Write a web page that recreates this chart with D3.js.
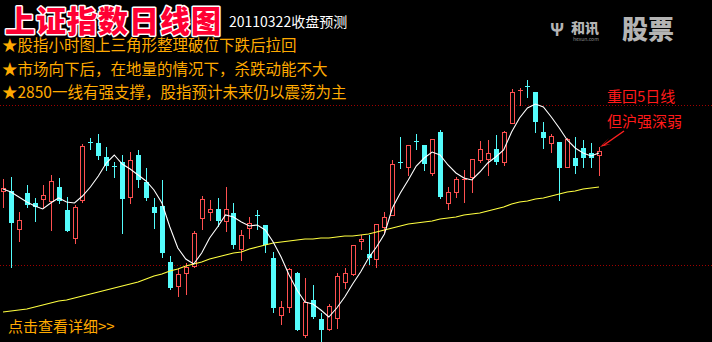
<!DOCTYPE html>
<html>
<head>
<meta charset="utf-8">
<script src="https://cdn.jsdelivr.net/npm/d3@7"></script>
<style>
  body { margin: 0; background: #000; overflow: hidden; }
  svg { display: block; }
</style>
</head>
<body>
<div id="chart"></div>
<script>
// daily bars, Shanghai index
let opens = [2903.5,2903.5,2846.5,2900.5,2885.5,2891.5,2888.5,2909.5,2875,2833,
  2890,2977,2975.5,2954.5,2941,2947,2894.5,2957.5,2917,2879.5,
  2881,2797,2761,2780.5,2791,2863,2872,2876.5,2858.5,2870.5,
  2816.5,2848,2867.5,2852.5,2803,2717.5,2729.5,2780.5,2687.5,2740,
  2711.5,2696.5,2713,2767,2779,2828.5,2809,2801.5,2849.5,2867.5,
  2947,2939.5,2978.5,2972.5,2930.5,2992,2885.5,2902,2920,2924.5,
  2950,2951.5,2966.5,2947,3005.5,3053.5,3061,3052,2992,2975.5,
  2977,2939.5,2953,2968,2960.5,2957.5];
let highs = [2921.5,2924.5,2872,2912.5,2893,2912.5,2927.5,2923,2894.5,2882.5,
  2974,2983,2989,2969.5,2947,2957.5,2962,2965,2938,2893,
  2920,2806,2786.5,2795.5,2843.5,2896,2890,2893,2909.5,2885.5,
  2845,2864.5,2875,2852.5,2812,2738.5,2788,2782,2773,2762.5,
  2720.5,2734,2780.5,2788,2822.5,2837.5,2837.5,2854,2872,2950,
  2984.5,2972.5,2989,2972.5,2981.5,2995,2909.5,2924.5,2935,2951.5,
  2978.5,2980,2987.5,2993.5,3056.5,3058,3070,3052,3007,2989,
  2977,2983,2984.5,2980,2975.5,2969.5];
let lows = [2879.5,2789.5,2828.5,2879.5,2858.5,2878,2845,2885.5,2843.5,2825.5,
  2887,2966.5,2951.5,2935,2924.5,2840.5,2885.5,2909.5,2890,2848,
  2804.5,2756.5,2746,2749,2789.5,2846.5,2860,2851,2843.5,2818,
  2800,2833,2846.5,2812,2722,2704,2722,2695,2684.5,2713,
  2677,2695,2698,2758,2777.5,2816.5,2794,2789.5,2842,2867.5,
  2938,2927.5,2966.5,2935,2927.5,2893,2876.5,2894.5,2887,2902,
  2947,2927.5,2944,2942.5,3005.5,3032.5,3044.5,2992,2968,2962,
  2890,2939.5,2930.5,2939.5,2939.5,2927.5];
let closes = [2908,2857,2860,2884,2881,2897.5,2918.5,2890,2845,2879.5,
  2971,2975.5,2957.5,2942.5,2939.5,2893,2950,2921.5,2894.5,2872,
  2812,2759.5,2779,2789.5,2840.5,2891.5,2876.5,2860,2876.5,2824,
  2837.5,2855.5,2866,2824,2729.5,2729.5,2786.5,2696.5,2737,2716,
  2696.5,2731,2776,2780.5,2822.5,2831.5,2804.5,2854,2864.5,2944,
  2945.5,2972.5,2977,2945.5,2981.5,2896,2902,2921.5,2921.5,2951.5,
  2966.5,2960.5,2948.5,2992,3052,3055,3059.5,3008.5,2984.5,2986,
  2939.5,2981.5,2942.5,2954.5,2954.5,2963.5];

// 5 day average (white) and long average (yellow)
let ma5 = [2906.5,2902,2894.5,2887,2881,2876.5,2885.5,2893,2887,2885.5,
  2896,2909.5,2926,2945.5,2957.5,2944,2936.5,2927.5,2918.5,2905,
  2885.5,2849.5,2818,2801.5,2794,2810.5,2833,2849.5,2867.5,2864.5,
  2857,2851,2852.5,2845,2827,2804.5,2777.5,2755,2737,2734,
  2725,2714.5,2728,2744.5,2764,2782,2803,2819.5,2839,2878,
  2900.5,2920,2941,2953,2962,2957.5,2942.5,2930.5,2923,2920,
  2932,2945.5,2954.5,2965,2992,3013,3028,3034,3029.5,3014.5,
  2998,2980,2968,2960.5,2956,2960.5];
let maLong = [2722,2723.5,2725,2726.5,2729.5,2732.5,2735.5,2738.5,2740,2743,
  2746,2749,2752,2755,2758,2761,2764,2767,2771.5,2776,
  2779,2783.5,2786.5,2791,2794,2797,2801.5,2804.5,2807.5,2810.5,
  2812,2816.5,2819.5,2822.5,2825.5,2827,2828.5,2830,2831.5,2831.5,
  2833,2833,2834.5,2836,2836,2837.5,2839,2842,2845,2848,
  2851,2854,2855.5,2857,2858.5,2861.5,2863,2864.5,2867.5,2869,
  2870.5,2873.5,2876.5,2879.5,2884,2887,2888.5,2891.5,2893,2896,
  2899,2902,2903.5,2906.5,2908,2909.5];

let refLevels = [3033, 2793];

let titleText = "上证指数日线图";
let dateText = "20110322收盘预测";
let bullets = ["股指小时图上三角形整理破位下跌后拉回",
  "市场向下后，在地量的情况下，杀跌动能不大",
  "2850一线有强支撑，股指预计未来仍以震荡为主"];
let noteLines = ["重回5日线", "但沪强深弱"];
let linkText = "点击查看详细>>";

const width = 712, height = 342;
const n = opens.length;
const font = "'Noto Sans CJK SC', 'Noto Sans', sans-serif";
const upColor = "#ff5050", downColor = "#54fcfc";

let svg = d3.select("#chart").append("svg")
  .attr("width", width)
  .attr("height", height)
  .style("background", "#000");

let x = d3.scaleLinear().domain([0, n - 1]).range([3, 599]);
let y = d3.scaleLinear().domain([2680, 3070]).range([340, 80]);

// dotted reference lines
svg.append("g").selectAll("line").data(refLevels).join("line")
  .attr("x1", 0).attr("x2", width)
  .attr("y1", d => Math.round(y(d)) + 0.5)
  .attr("y2", d => Math.round(y(d)) + 0.5)
  .attr("stroke", "#a00000")
  .attr("stroke-dasharray", "1,2");

// candles
let g = svg.append("g").attr("shape-rendering", "crispEdges");
d3.range(n).forEach(i => {
  let up = closes[i] >= opens[i];
  let col = up ? upColor : downColor;
  let px = Math.round(x(i));
  let top = Math.round(y(Math.max(opens[i], closes[i])));
  let bot = Math.round(y(Math.min(opens[i], closes[i])));
  g.append("line")
    .attr("x1", px + 0.5).attr("x2", px + 0.5)
    .attr("y1", Math.round(y(highs[i]))).attr("y2", Math.round(y(lows[i])) + 1)
    .attr("stroke", col);
  if (bot - top < 2) {
    g.append("line")
      .attr("x1", px - 2).attr("x2", px + 3)
      .attr("y1", top + 0.5).attr("y2", top + 0.5)
      .attr("stroke", col);
  } else if (up) {
    g.append("rect")
      .attr("x", px - 1.5).attr("y", top + 0.5)
      .attr("width", 4).attr("height", bot - top)
      .attr("fill", "#000").attr("stroke", col);
  } else {
    g.append("rect")
      .attr("x", px - 2).attr("y", top)
      .attr("width", 5).attr("height", bot - top + 1)
      .attr("fill", col);
  }
});

// moving averages
let line = d3.line().x((d, i) => x(i)).y(d => y(d));
svg.append("path").datum(maLong)
  .attr("d", line).attr("fill", "none")
  .attr("stroke", "#ffff40").attr("stroke-width", 1.2);
svg.append("path").datum(ma5)
  .attr("d", line).attr("fill", "none")
  .attr("stroke", "#fff").attr("stroke-width", 1.1);

// title
svg.append("text")
  .attr("x", 5).attr("y", 32)
  .attr("font-family", font).attr("font-size", 30).attr("font-weight", 900)
  .attr("fill", "#ff0033").attr("stroke", "#fff").attr("stroke-width", 3)
  .attr("paint-order", "stroke").attr("stroke-linejoin", "round")
  .attr("letter-spacing", 1)
  .text(titleText);
svg.append("text")
  .attr("x", 229).attr("y", 27)
  .attr("font-family", font).attr("font-size", 14)
  .attr("fill", "#fff")
  .text(dateText);

// bullet notes
svg.append("g").selectAll("text").data(bullets).join("text")
  .attr("x", 2).attr("y", (d, i) => 51 + i * 23.5)
  .attr("font-family", font).attr("font-size", 15.5)
  .attr("fill", "#ffaa00")
  .text(d => "★" + d);

// logo
let logo = svg.append("g").attr("fill", "#b4b4b4").attr("font-family", font);
logo.append("text").attr("x", 550).attr("y", 36).attr("font-size", 17).attr("font-weight", 700).text("Ψ");
logo.append("text").attr("x", 571).attr("y", 33).attr("font-size", 14).attr("font-weight", 900).text("和讯");
logo.append("text").attr("x", 573).attr("y", 41).attr("font-size", 5).attr("fill", "#888").text("hexun.com");
logo.append("text").attr("x", 622).attr("y", 39).attr("font-size", 26).attr("font-weight", 900).text("股票");

// annotation with arrow to the last bar
svg.append("g").selectAll("text").data(noteLines).join("text")
  .attr("x", 607).attr("y", (d, i) => 102 + i * 25)
  .attr("font-family", font).attr("font-size", 15)
  .attr("fill", "#ff1a1a")
  .text(d => d);
let tipX = x(n - 1) + 1, tipY = y(highs[n - 1]);
svg.append("line")
  .attr("x1", tipX + 24).attr("y1", tipY - 16)
  .attr("x2", tipX + 4).attr("y2", tipY - 2)
  .attr("stroke", "#ff2020").attr("stroke-width", 1.5);
svg.append("path")
  .attr("d", `M${tipX},${tipY} L${tipX + 9},${tipY - 9} L${tipX + 3},${tipY - 2} L${tipX + 11},${tipY - 3} Z`)
  .attr("fill", "#ff2020");

// link text
svg.append("text")
  .attr("x", 8).attr("y", 332)
  .attr("font-family", font).attr("font-size", 15)
  .attr("fill", "#ffaa00")
  .text(linkText);
</script>
</body>
</html>
